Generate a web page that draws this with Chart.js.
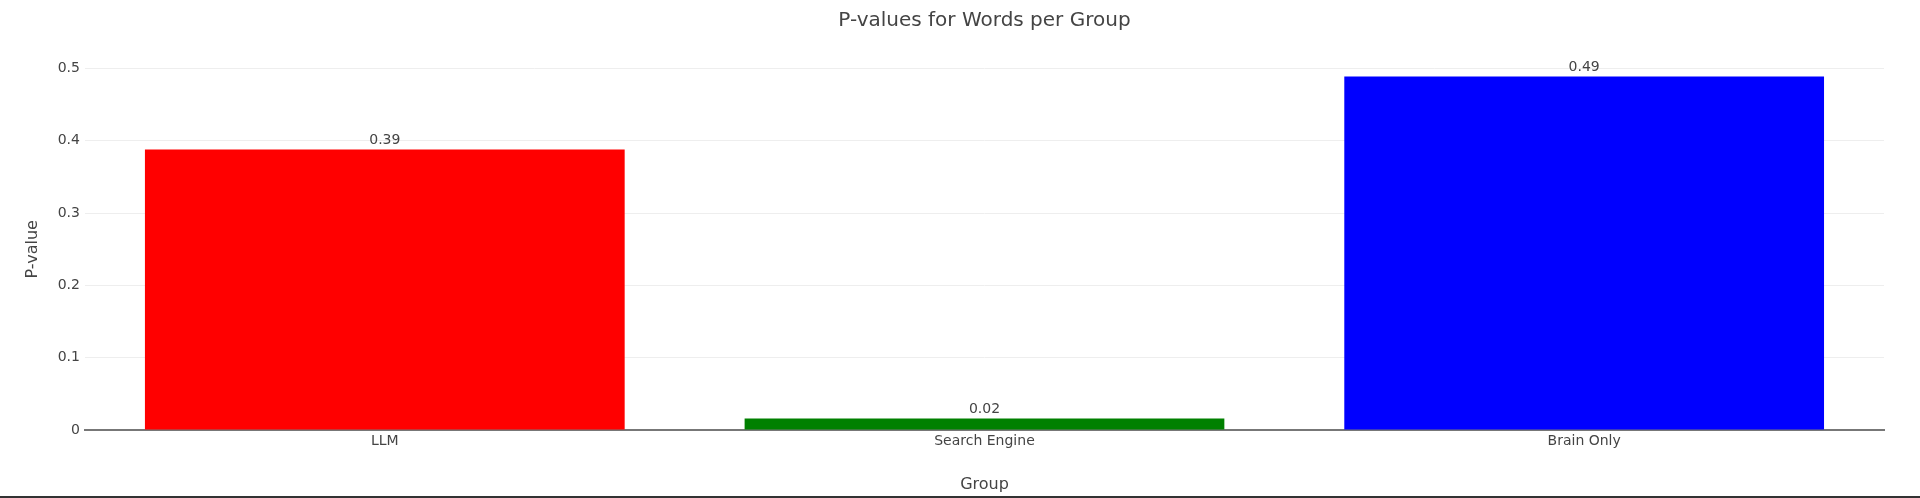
<!DOCTYPE html>
<html>
<head>
<meta charset="utf-8">
<script src="https://cdn.jsdelivr.net/npm/chart.js@4.4.1/dist/chart.umd.min.js"></script>
<style>
  html, body { margin: 0; padding: 0; background: #fff; }
  #wrap { width: 1920px; height: 496px; border-bottom: 2px solid #333; }
</style>
</head>
<body>
<div id="wrap"><canvas id="pChart" width="1920" height="496"></canvas></div>
<script>
// -------- data --------
const groups = ['LLM', 'Search Engine', 'Brain Only'];
const pValues = [0.388, 0.016, 0.489];
const pLabels = ['0.39', '0.02', '0.49'];
const barColors = ['#ff0000', '#008000', '#0000ff'];

const FONT = "'DejaVu Sans', Verdana, sans-serif";

// value text above every bar
const barLabels = {
  id: 'barLabels',
  afterDatasetsDraw(chart){
    const ctx = chart.ctx;
    const meta = chart.getDatasetMeta(0);
    ctx.save();
    ctx.font = '14px ' + FONT;
    ctx.fillStyle = '#444';
    ctx.textAlign = 'center';
    ctx.textBaseline = 'alphabetic';
    meta.data.forEach((bar, i) => {
      ctx.fillText(pLabels[i], bar.x, bar.y - 5);
    });
    ctx.restore();
  }
};

new Chart(document.getElementById('pChart'), {
  type: 'bar',
  data: {
    labels: groups,
    datasets: [{
      label: 'P-value',
      data: pValues,
      backgroundColor: barColors,
      borderWidth: 0,
      categoryPercentage: 0.8,
      barPercentage: 1.0
    }]
  },
  options: {
    responsive: false,
    animation: false,
    layout: { padding: { left: 0, right: 36, top: 0, bottom: 0 } },
    plugins: {
      legend: { display: false },
      tooltip: { enabled: false },
      title: {
        display: true,
        text: 'P-values for Words per Group',
        fullSize: false,
        color: '#444',
        font: { family: FONT, size: 20, weight: 'normal' },
        padding: { top: 9, bottom: 35.5 }
      }
    },
    scales: {
      x: {
        grid: { display: false, drawTicks: false },
        border: { display: true, color: '#777', width: 2 },
        ticks: { color: '#444', padding: 3, font: { family: FONT, size: 14 } },
        title: {
          display: true, text: 'Group', color: '#444',
          font: { family: FONT, size: 16 },
          padding: { top: 22, bottom: 2 }
        }
      },
      y: {
        min: 0,
        max: 0.5,
        grid: { color: '#eee', lineWidth: 1, drawTicks: false },
        border: { display: false },
        ticks: { stepSize: 0.1, color: '#444', padding: 5, font: { family: FONT, size: 14 } },
        title: {
          display: true, text: 'P-value', color: '#444',
          font: { family: FONT, size: 16 },
          padding: { top: 23.5, bottom: 10 }
        }
      }
    }
  },
  plugins: [barLabels]
});
</script>
</body>
</html>
